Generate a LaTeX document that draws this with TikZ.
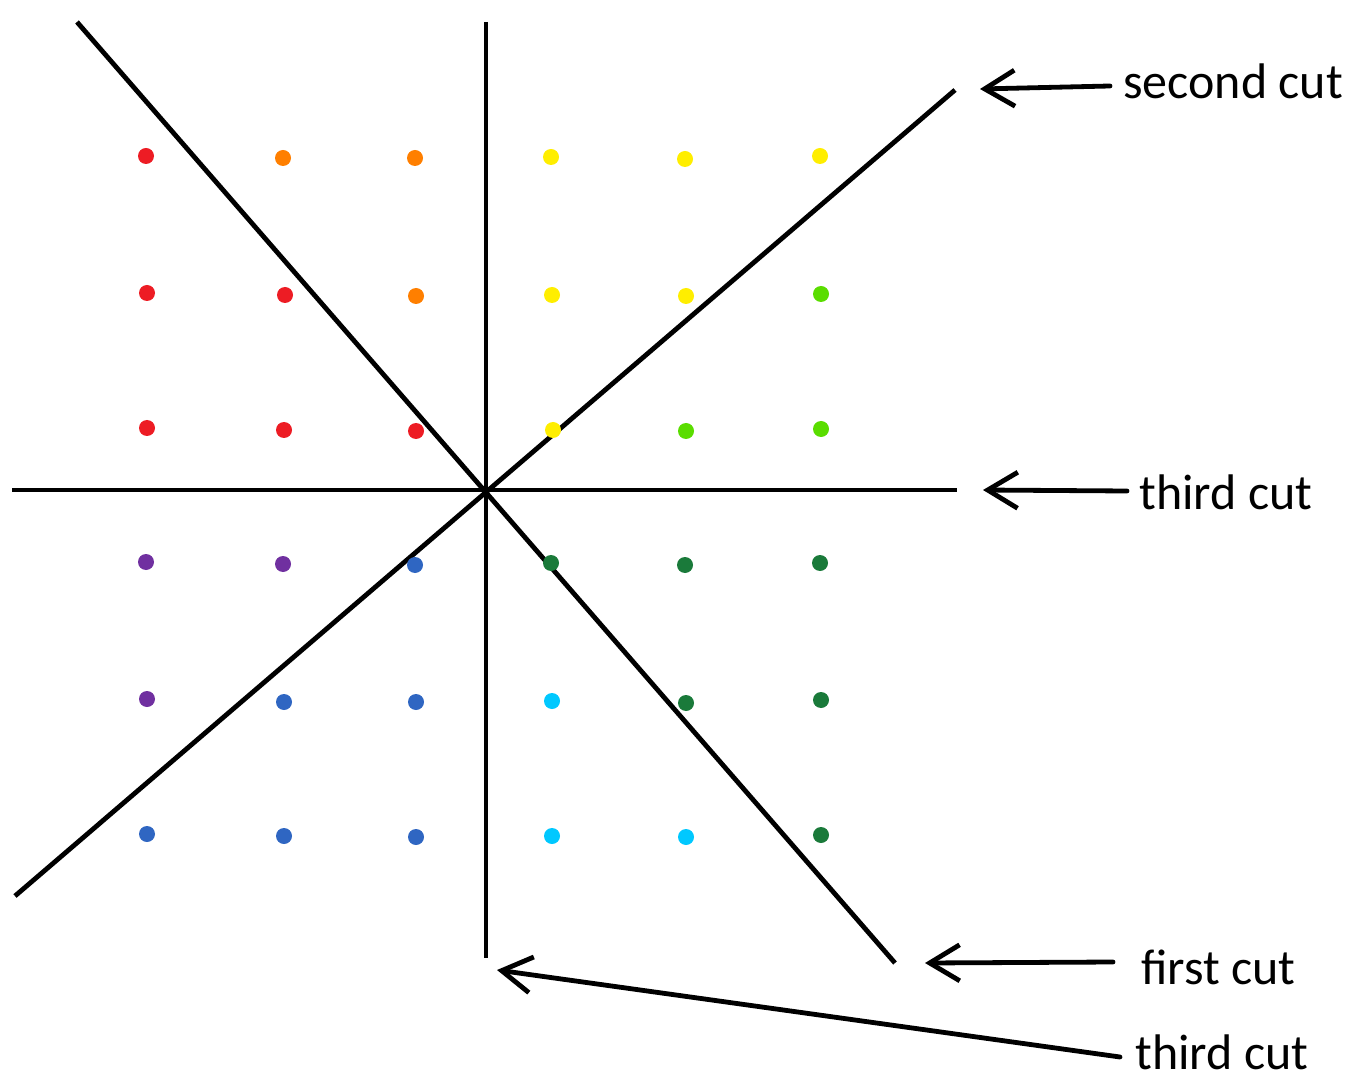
\documentclass[tikz,border=0pt]{standalone}
\usepackage{fontspec}
\setmainfont{Carlito}
\usetikzlibrary{arrows.meta}

\definecolor{ptred}{HTML}{ED1C24}
\definecolor{ptorange}{HTML}{FF7F00}
\definecolor{ptyellow}{HTML}{FFEE00}
\definecolor{ptlime}{HTML}{5ADD00}
\definecolor{ptgreen}{HTML}{1A7A3A}
\definecolor{ptpurple}{HTML}{7030A0}
\definecolor{ptblue}{HTML}{2F66C2}
\definecolor{ptcyan}{HTML}{00C8FF}

\tikzset{
  cutline/.style={line width=2.4pt},
  cutarrow/.style={line width=2.4pt, line cap=round, -{Straight Barb[length=15pt, width=18pt, line width=2.4pt]}},
  cutlabel/.style={anchor=base west, inner sep=0pt, font=\fontsize{25}{29}\selectfont}
}

\begin{document}
\begin{tikzpicture}[x=0.5pt, y=-0.5pt]
\useasboundingbox (0,0) rectangle (1358,1090);

% estremi dei tagli
\coordinate (c) at (486,491);
\coordinate (vtop) at (486,22);
\coordinate (vbot) at (486,958);
\coordinate (hleft) at (12,490);
\coordinate (hright) at (957,490);
\coordinate (dtop) at (77,22);
\coordinate (dbot) at (895,963);
\coordinate (atop) at (955,90);
\coordinate (abot) at (15,896);

% tagli
\draw[cutline] (vtop) -- (vbot);
\draw[cutline] (hleft) -- (hright);
\draw[cutline] (dtop) -- (dbot);
\draw[cutline] (abot) -- (atop);

% punti colorati
\foreach \px/\py/\col in {
  146/156/ptred, 283/158/ptorange, 415/158/ptorange, 551/157/ptyellow, 685/159/ptyellow, 820/156/ptyellow,
  147/293/ptred, 285/295/ptred, 416/296/ptorange, 552/295/ptyellow, 686/296/ptyellow, 821/294/ptlime,
  147/428/ptred, 284/430/ptred, 416/431/ptred, 553/430/ptyellow, 686/431/ptlime, 821/429/ptlime,
  146/562/ptpurple, 283/564/ptpurple, 415/565/ptblue, 551/563/ptgreen, 685/565/ptgreen, 820/563/ptgreen,
  147/699/ptpurple, 284/702/ptblue, 416/702/ptblue, 552/701/ptcyan, 686/703/ptgreen, 821/700/ptgreen,
  147/834/ptblue, 284/836/ptblue, 416/837/ptblue, 552/836/ptcyan, 686/837/ptcyan, 821/835/ptgreen}
  \fill[\col] (\px,\py) circle (4pt);

% etichette
\node[cutlabel] (second) at (1123,99) {second cut};
\node[cutlabel] (thirdmid) at (1139,509) {third cut};
\node[cutlabel] (first) at (1141,984) {first cut};
\node[cutlabel] (thirdbot) at (1135,1069) {third cut};

% frecce
\coordinate (s1) at (1110,86);
\coordinate (s2) at (980,89);
\coordinate (t1) at (1127,491);
\coordinate (t2) at (983,490);
\coordinate (f1) at (1113,962);
\coordinate (f2) at (925,963);
\coordinate (b1) at (1120,1057);
\coordinate (b2) at (497,970);
\draw[cutarrow] (s1) -- (s2);
\draw[cutarrow] (t1) -- (t2);
\draw[cutarrow] (f1) -- (f2);
\draw[cutarrow] (b1) -- (b2);

\end{tikzpicture}
\end{document}
